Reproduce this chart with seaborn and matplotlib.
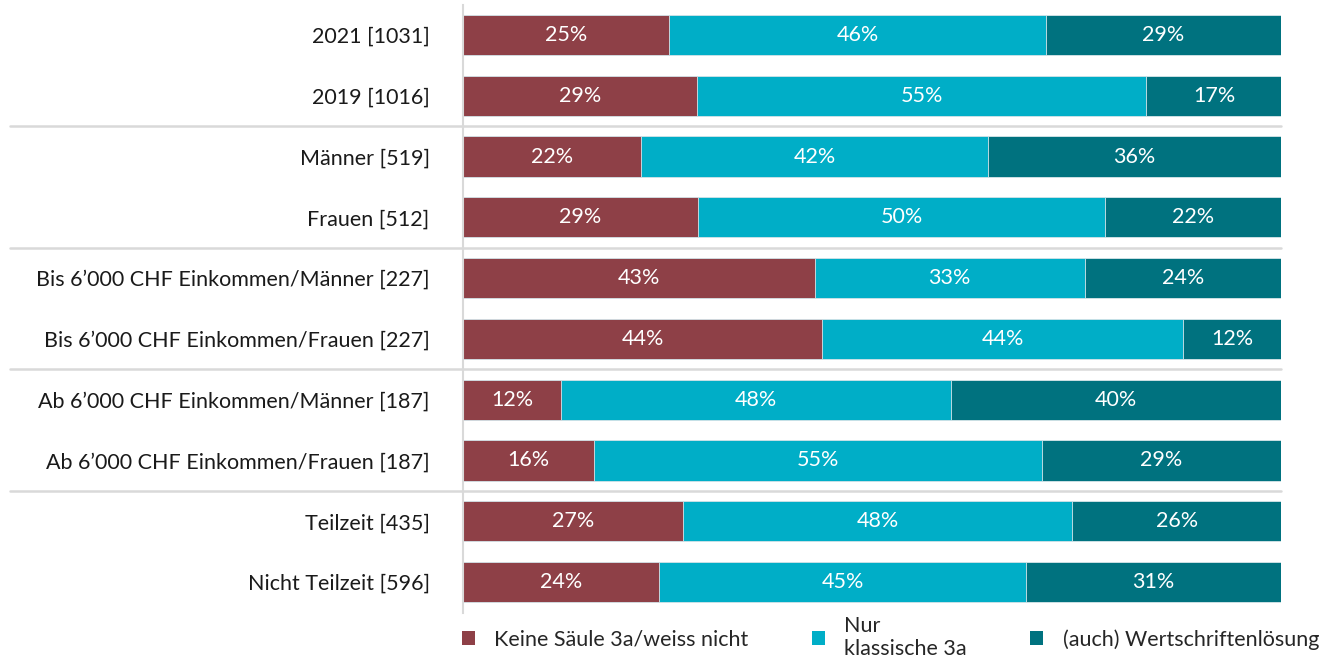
import pandas as pd
import numpy as np
import seaborn as sns
import matplotlib.pyplot as plt
from matplotlib.patches import Patch
from matplotlib.transforms import blended_transform_factory

groups = ["2021 [1031]", "2019 [1016]", "Männer [519]", "Frauen [512]",
          "Bis 6’000 CHF Einkommen/Männer [227]", "Bis 6’000 CHF Einkommen/Frauen [227]",
          "Ab 6’000 CHF Einkommen/Männer [187]", "Ab 6’000 CHF Einkommen/Frauen [187]",
          "Teilzeit [435]", "Nicht Teilzeit [596]"]
keine = [25.2, 28.6, 21.8, 28.7, 43.0, 43.9, 12.0, 16.0, 26.9, 24.0]
klassisch = [46.1, 54.9, 42.4, 49.8, 33.0, 44.1, 47.7, 54.8, 47.6, 44.8]
wertschriften = [28.7, 16.6, 35.8, 21.6, 24.0, 12.0, 40.3, 29.2, 25.6, 31.2]
series_names = ["Keine Säule 3a/weiss nicht", "Nur\nklassische 3a", "(auch) Wertschriftenlösung"]
colors = ["#8E4047", "#00AEC7", "#00727F"]

df = pd.DataFrame({"group": groups, "keine": keine, "klassisch": klassisch, "wert": wertschriften})
df["c1"] = df["keine"]
df["c2"] = df["keine"] + df["klassisch"]
df["c3"] = df["c2"] + df["wert"]

sns.set_theme(style="white")
plt.rcParams["font.family"] = ["Lato", "DejaVu Sans"]
fs = 15.5

fig = plt.figure(figsize=(13.21, 6.63), dpi=100)
ax = fig.add_axes([463 / 1321, 1 - 612.5 / 663, 818 / 1321, 608 / 663])

# overlay cumulative bars, widest first
for col, c in zip(["c3", "c2", "c1"], colors[::-1]):
    sns.barplot(data=df, x=col, y="group", color=c, ax=ax, width=0.66,
                edgecolor="#d8e6ea", linewidth=0.6, saturation=1)

for i, row in df.iterrows():
    starts = [0, row["c1"], row["c2"]]
    for s, v in zip(starts, [row["keine"], row["klassisch"], row["wert"]]):
        ax.text(s + v / 2, i, f"{v:.0f}%", ha="center", va="center",
                color="white", fontsize=fs)

ax.set_xlim(0, 100)
ax.set_ylim(9.5, -0.5)
ax.set_xlabel("")
ax.set_ylabel("")
ax.set_xticks([])
ax.tick_params(axis="y", length=0, pad=24, labelsize=fs, labelcolor="#1a1a1a")
for side in ["top", "right", "bottom"]:
    ax.spines[side].set_visible(False)
ax.spines["left"].set_color("#d9d9d9")
ax.spines["left"].set_linewidth(1.5)

trans = blended_transform_factory(ax.transAxes, ax.transData)
for yy in [1.5, 3.5, 5.5, 7.5]:
    ax.plot([(10 - 463) / 818, 1], [yy, yy], transform=trans, color="#d9d9d9",
            linewidth=1.8, clip_on=False, zorder=0)

handles = [Patch(facecolor=c, edgecolor="none") for c in colors]
fig.legend(handles, series_names, loc="center", bbox_to_anchor=(0.674, 0.038),
           ncol=3, frameon=False, fontsize=fs, handlelength=0.6, handleheight=0.6,
           columnspacing=2.95, handletextpad=0.9)

fig.savefig("out.png", dpi=100)
